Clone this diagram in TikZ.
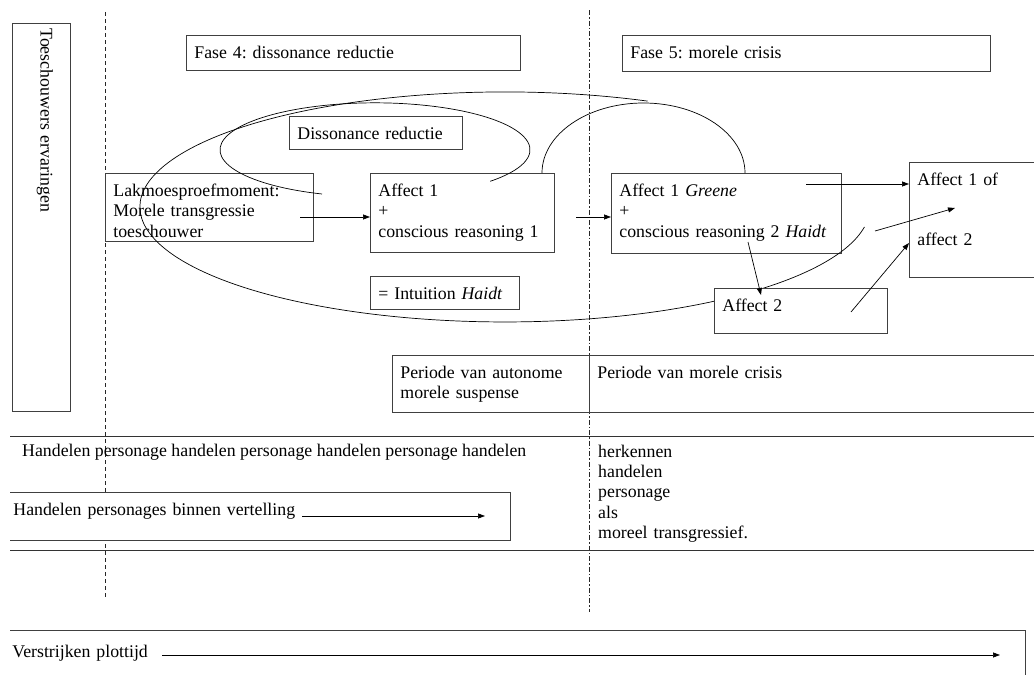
\documentclass[tikz,border=0pt]{standalone}
\usepackage{fontspec}
\setmainfont{Liberation Serif}
\usetikzlibrary{arrows.meta}
\newcommand{\tekst}{\fontsize{17.8}{20.4}\selectfont}
\frenchspacing

\begin{document}
\begin{tikzpicture}[x=1pt,y=-1pt,
  vak/.style={draw=black!75, line width=0.8pt, fill=white, anchor=north west, align=left,
    inner xsep=8pt, inner ysep=6pt, text height=17pt, font=\tekst},
  open/.style={vak, draw=none},
  rand/.style={black!75, line width=0.8pt},
  lijn/.style={black!80, line width=0.9pt},
  boog/.style={black, line width=0.7pt},
  pijl/.style={black, line width=0.7pt, -{Triangle[length=7pt,width=5pt]}}]
\useasboundingbox (0,0) rectangle (1034,675);
\clip (0,0) rectangle (1034,675);
\draw[black!85, line width=0.8pt, dash pattern=on 4pt off 3pt] (105,12) -- (105,597);
\draw[black!85, line width=0.8pt, dash pattern=on 5pt off 2pt on 1.5pt off 2pt] (589,10) -- (589,612);
\draw[lijn] (10,436) -- (1034,436);
\draw[lijn] (10,550) -- (1034,550);
\node[vak, rotate=-90, inner xsep=5pt, text width=378pt, text height=24pt, text depth=22pt] (kijker) at (71,23) {Toeschouwers ervaringen};
\node[vak, text width=318pt, text depth=6pt] (fase4) at (186,35) {Fase 4: dissonance reductie};
\node[vak, text width=352pt, text depth=7pt] (fase5) at (622,35) {Fase 5: morele crisis};
\node[vak, text width=157pt, text depth=4pt] (disso) at (289,116) {Dissonance reductie};
\node[vak, text width=192pt, text depth=39pt] (lakmoes) at (105,173) {Lakmoesproefmoment:\\Morele transgressie\\toeschouwer};
\node[vak, text width=168pt, text depth=50pt] (aff1) at (370,173) {Affect 1\\+\\conscious reasoning 1};
\node[vak, text width=133pt, text depth=4pt] (intuitie) at (370,276) {= Intuition \textit{Haidt}};
\node[vak, text width=214pt, text depth=51pt] (greene) at (611,173) {Affect 1 \textit{Greene}\\+\\conscious reasoning 2 \textit{Haidt}};
\node[vak, text width=140pt, text depth=86pt] (aff1of) at (909,162) {Affect 1 of\\[40pt]affect 2};
\node[vak, text width=181pt, text depth=28pt] (periode1) at (392,355) {Periode van autonome\\morele suspense};
\node[vak, text width=460pt, text depth=28pt] (periode2) at (589,355) {Periode van morele crisis};
\node[open, inner xsep=3pt, text width=494pt, text depth=19pt] (handbox) at (10,492) {Handelen personages binnen vertelling};
\draw[rand] (handbox.north west) -- (handbox.north east) -- (handbox.south east) -- (handbox.south west);
\node[open, inner xsep=2pt, text width=1011pt, text height=21pt, text depth=80pt] (plotbox) at (10,630) {Verstrijken plottijd};
\draw[rand] (plotbox.north west) -- (plotbox.north east) -- (plotbox.south east);
\node[anchor=base west, inner sep=0pt, font=\tekst] (handtxt) at (22,456) {Handelen personage handelen personage handelen personage handelen};
\node[anchor=base west, align=left, text width=250pt, inner sep=0pt, font=\tekst] (herkennen) at (598,457) {herkennen\\handelen\\personage\\als\\moreel transgressief.};
\draw[boog] (322,194) arc[start angle=110, end angle=402, x radius=155, y radius=47];
\draw[boog] (647.6,101.1) arc[start angle=293, end angle=10, x radius=365, y radius=115];
\draw[boog] (542,173) arc[start angle=180, end angle=360, x radius=101.5, y radius=70];
\node[vak, text width=157pt, text depth=16pt] (aff2) at (714,288) {Affect 2};
\coordinate (lakuit) at (300,217);
\coordinate (aff1uit) at (576,217);
\coordinate (greeneuit) at (806,184);
\coordinate (greeneaf) at (748,242);
\coordinate (aff2in) at (761,295);
\coordinate (aff2uit) at (851,312);
\coordinate (ofin) at (909,243);
\coordinate (boogeind) at (875,231);
\coordinate (ofmidden) at (955,208);
\coordinate (handuit) at (302,516);
\coordinate (handeind) at (485,516);
\coordinate (plotuit) at (162,655);
\coordinate (ploteind) at (1000,655);
\draw[pijl] (lakuit) -- (lakuit -| aff1.west);
\draw[pijl] (aff1uit) -- (aff1uit -| greene.west);
\draw[pijl] (greeneuit) -- (greeneuit -| aff1of.west);
\draw[pijl] (greeneaf) -- (aff2in);
\draw[pijl] (aff2uit) -- (ofin);
\draw[pijl] (boogeind) -- (ofmidden);
\draw[pijl] (handuit) -- (handeind);
\draw[pijl] (plotuit) -- (ploteind);
\end{tikzpicture}
\end{document}
